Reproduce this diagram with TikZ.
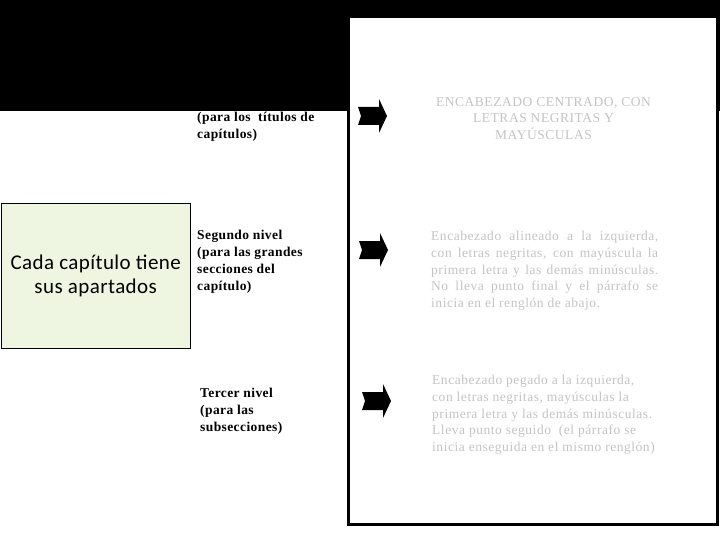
\documentclass[tikz,border=0pt]{standalone}
\usepackage{fontspec}
\setmainfont{Liberation Serif}
\newfontfamily\calfont[LetterSpace=2]{Carlito}
\newfontfamily\lefffont[LetterSpace=3]{Liberation Serif}
\newfontfamily\grayfont[LetterSpace=4]{Liberation Serif}
\definecolor{paleg}{HTML}{EEF6E2}
\definecolor{lgray}{HTML}{C4C4C4}
\begin{document}
\begin{tikzpicture}[x=1pt,y=-1pt,
  lefttxt/.style={anchor=north west,inner sep=0pt,align=left,font=\lefffont\bfseries\fontsize{13.5}{17}\selectfont,text=black},
  righttxt/.style={inner sep=0pt,font=\grayfont\fontsize{13.5}{16.8}\selectfont,text=lgray},
  blockarrow/.style={fill=black,draw=none}]
\useasboundingbox (0,0) rectangle (720,540);
\fill[white] (0,0) rectangle (720,540);
% black band
\fill[black] (0,0) rectangle (720,111);
% main white box
\draw[line width=3pt,fill=white] (348.5,16.5) rectangle (717.5,524.5);
% green box
\node[draw=black,line width=1.2pt,fill=paleg,minimum width=189pt,minimum height=145pt,inner sep=0pt,anchor=north west,align=center,font=\calfont\fontsize{21}{24}\selectfont] (green) at (0.6,202.6) {Cada capítulo tiene\\sus apartados};
% left texts
\node[lefttxt] (l1) at (197,111.5) {(para los\ \ títulos de\\capítulos)};
\node[lefttxt] (l2) at (197,230) {Segundo nivel\\(para las grandes\\secciones del\\capítulo)};
\node[lefttxt] (l3) at (200,388) {Tercer nivel\\(para las\\subsecciones)};
% arrows
\foreach \n/\cx/\cy in {a1/358/116, a2/359/250, a3/362/401}{
  \fill[blockarrow] (\cx,\cy-9) -- (\cx+21,\cy-9) -- (\cx+21,\cy-17) -- (\cx+29,\cy) -- (\cx+21,\cy+17) -- (\cx+21,\cy+9) -- (\cx,\cy+9) -- (\cx+3,\cy) -- cycle;
}
% right texts
\node[righttxt,align=center,anchor=north] (r1) at (543.5,97) {ENCABEZADO CENTRADO, CON\\LETRAS NEGRITAS Y\\MAYÚSCULAS};
\node[righttxt,align=justify,text width=227pt,anchor=north west] (r2) at (431,231) {Encabezado alineado a la izquierda,\linebreak con letras negritas, con mayúscula la\linebreak primera letra y las demás minúsculas.\linebreak No lleva punto final y el párrafo se\linebreak inicia en el renglón de abajo.};
\node[righttxt,align=left,anchor=north west] (r3) at (432,375) {Encabezado pegado a la izquierda,\\con letras negritas, mayúsculas la\\primera letra y las demás minúsculas.\\Lleva punto seguido\ \ (el párrafo se\\inicia enseguida en el mismo renglón)};
\end{tikzpicture}
\end{document}
